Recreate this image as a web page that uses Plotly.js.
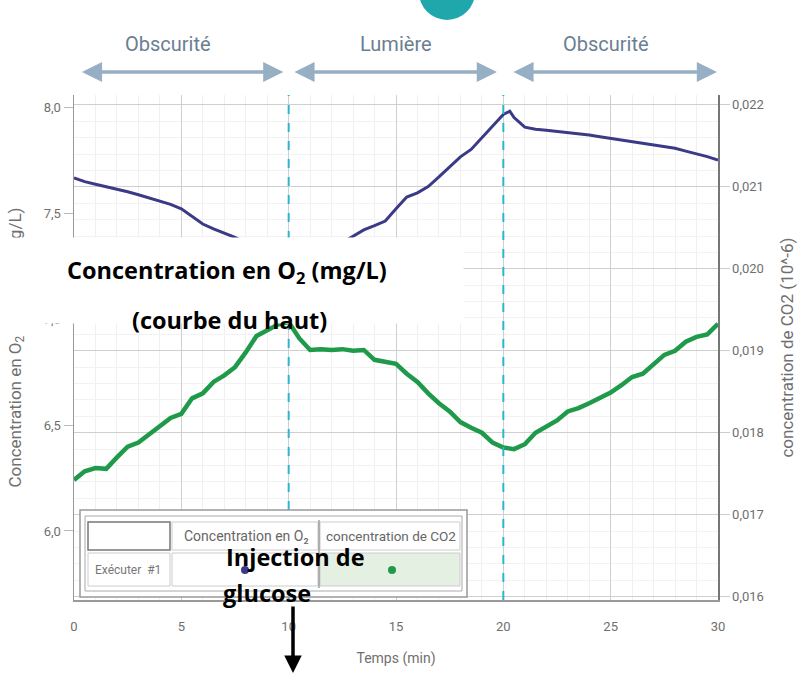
<!DOCTYPE html>
<html>
<head>
<meta charset="utf-8">
<script src="https://cdn.plot.ly/plotly-3.0.1.min.js"></script>
<style>html,body{margin:0;padding:0;background:#fff;}#chart{width:799px;height:684px;}</style>
</head>
<body>
<div id="chart"></div>
<script>
// ---- data ----
const timeO2 = [0,0.5,1,1.5,2,2.5,3,3.5,4,4.5,5,5.5,6,6.5,7,7.5,8,8.5,9,9.5,10,10.5,11,11.5,12,12.5,13,13.5,14,14.5,15,15.5,16,16.5,17,17.5,18,18.5,19,19.5,20,20.3,20.5,21,21.5,22,22.5,23,23.5,24,24.5,25,25.5,26,26.5,27,27.5,28,28.5,29,29.5,30];
const o2Values = [7.665,7.648,7.636,7.625,7.612,7.600,7.586,7.572,7.556,7.541,7.520,7.485,7.448,7.425,7.405,7.385,7.360,7.330,7.300,7.270,7.245,7.260,7.280,7.300,7.330,7.360,7.390,7.420,7.440,7.462,7.520,7.575,7.595,7.625,7.670,7.720,7.765,7.800,7.855,7.905,7.965,7.980,7.950,7.905,7.895,7.890,7.885,7.880,7.874,7.868,7.860,7.852,7.845,7.835,7.830,7.820,7.812,7.805,7.792,7.780,7.766,7.750];
const timeCO2 = [0,0.5,1,1.5,2,2.5,3,3.5,4,4.5,5,5.5,6,6.5,7,7.5,8,8.5,9,9.5,10,10.5,11,11.5,12,12.5,13,13.5,14,14.5,15,15.5,16,16.5,17,17.5,18,18.5,19,19.5,20,20.5,21,21.5,22,22.5,23,23.5,24,24.5,25,25.5,26,26.5,27,27.5,28,28.5,29,29.5,30];
const co2Values = [0.017425,0.01753,0.01757,0.01756,0.01770,0.01783,0.01788,0.01798,0.01807,0.01818,0.01823,0.01842,0.01848,0.01862,0.01870,0.01880,0.01898,0.01918,0.01925,0.01932,0.01935,0.01915,0.01901,0.01902,0.01901,0.01902,0.01900,0.01901,0.01889,0.01886,0.01884,0.01872,0.01862,0.01848,0.01836,0.01826,0.01813,0.01806,0.01800,0.01788,0.01782,0.01780,0.01786,0.01800,0.01807,0.01815,0.01826,0.01830,0.01836,0.01843,0.01849,0.01858,0.01868,0.01872,0.01883,0.01895,0.01900,0.01911,0.01917,0.01920,0.01933];
const dividerTimes = [10, 20];
const phaseLabels = ['Obscurité', 'Lumière', 'Obscurité'];
const phaseLabelTimes = [4.4, 15.0, 24.8];
const phaseStart = [0.3, 10.2, 20.4];
const phaseEnd = [9.75, 19.7, 29.95];
const o2TickVals = [6, 6.5, 7, 7.5, 8];
const xTickVals = [0, 5, 10, 15, 20, 25, 30];

// ---- geometry helpers (plot area in page pixels) ----
const L = 74, R = 718, T = 95, B = 600;
const px = x => (x - L) / (R - L);
const py = y => (B - y) / (B - T);

const navy = '#3b3a86';
const green = '#1f9a4a';
const gray = '#6f6f6f';
const chartFont = 'Roboto, Liberation Sans Narrow, sans-serif';
const bold = 'Open Sans, Noto Sans, sans-serif';
const NB = '\u00A0';

const traces = [
  {x: timeO2, y: o2Values, type: 'scatter', mode: 'lines', yaxis: 'y',
   line: {color: navy, width: 3}, name: 'Concentration en O₂'},
  {x: timeCO2, y: co2Values, type: 'scatter', mode: 'lines', yaxis: 'y2',
   line: {color: green, width: 4.5}, name: 'concentration de CO2'}
];

const shapes = [];
dividerTimes.forEach(t => shapes.push({type: 'line', xref: 'x', yref: 'paper', x0: t, x1: t, y0: 0, y1: 1,
  line: {color: '#2fb3d3', width: 2, dash: 'dash'}, layer: 'above'}));
function rect(x0, y0, x1, y1, fill, lc, lw) {
  shapes.push({type: 'rect', xref: 'paper', yref: 'paper', x0: px(x0), x1: px(x1), y0: py(y1), y1: py(y0),
    fillcolor: fill, line: {color: lc, width: lw}, layer: 'above'});
}
// teal blob at top
shapes.push({type: 'circle', xref: 'paper', yref: 'paper', x0: px(419), x1: px(475), y0: py(20), y1: py(-36),
  fillcolor: '#1fa7ac', line: {width: 0}, layer: 'above'});
// legend table
rect(80, 510, 467, 597, '#ffffff', '#999', 1.5);
rect(85, 516, 462, 591, '#ffffff', '#aaa', 1);
rect(320, 553, 460, 586, '#e4f0e2', '#ccc', 1);
rect(88, 522, 170, 550, '#ffffff', '#777', 1.5);
rect(172, 522, 318, 550, 'rgba(0,0,0,0)', '#ccc', 1);
rect(320, 522, 460, 550, 'rgba(0,0,0,0)', '#ccc', 1);
rect(88, 553, 170, 586, 'rgba(0,0,0,0)', '#ccc', 1);
rect(172, 553, 318, 586, 'rgba(0,0,0,0)', '#ccc', 1);
shapes.push({type: 'line', xref: 'paper', yref: 'paper', x0: px(319), x1: px(319), y0: py(588), y1: py(520),
  line: {color: '#888', width: 1.2}, layer: 'above'});
shapes.push({type: 'circle', xref: 'paper', yref: 'paper', x0: px(241), x1: px(249), y0: py(574), y1: py(566),
  fillcolor: navy, line: {width: 0}, layer: 'above'});
shapes.push({type: 'circle', xref: 'paper', yref: 'paper', x0: px(388), x1: px(396), y0: py(574), y1: py(566),
  fillcolor: green, line: {width: 0}, layer: 'above'});

const annotations = [];
function note(x, y, text, font, xanchor) {
  annotations.push({xref: 'paper', yref: 'paper', x: px(x), y: py(y), text: text, showarrow: false,
    xanchor: xanchor || 'center', yanchor: 'middle', font: font});
}
// white overlay box (annotation so that it also covers the axis title)
annotations.push({xref: 'paper', yref: 'paper', x: px(0), y: py(237), xanchor: 'left', yanchor: 'top',
  text: ' ', showarrow: false, width: 460, height: 83, bgcolor: '#ffffff', borderpad: 1, font: {size: 10}});
// phase labels and arrows
phaseLabels.forEach((lab, i) => {
  annotations.push({xref: 'x', yref: 'paper', x: phaseLabelTimes[i], y: py(44), xanchor: 'center', yanchor: 'middle',
    text: lab, showarrow: false, font: {family: chartFont, size: 20, color: '#6a7e92'}});
  annotations.push({xref: 'x', yref: 'paper', x: phaseEnd[i], y: py(72), axref: 'x', ax: phaseStart[i], ayref: 'pixel', ay: 0,
    text: '', showarrow: true, arrowside: 'end+start', arrowhead: 2, arrowsize: 1.15, arrowwidth: 3.5, arrowcolor: '#97afc4'});
});
// overlay text
const boldFont = {family: bold, size: 23.5, color: '#000', weight: 'bold'};
note(227, 271, '<b>Concentration en O<sub>2</sub> (mg/L)</b>', boldFont);
note(229, 320, '<b>(courbe du haut)</b>', boldFont);
// legend table text
note(246, 536, 'Concentration en O₂', {family: chartFont, size: 14, color: '#666'});
note(391, 536, 'concentration de CO2', {family: chartFont, size: 13.5, color: '#666'});
note(128, 570, 'Exécuter  #1', {family: chartFont, size: 12, color: '#777'});
// injection text + arrow
note(224, 557, '<b>Injection de</b>', boldFont, 'left');
note(221, 593, '<b>glucose</b>', boldFont, 'left');
annotations.push({xref: 'paper', yref: 'paper', x: px(293), y: py(673), ax: 0, ay: -68, text: '',
  showarrow: true, arrowhead: 2, arrowsize: 1, arrowwidth: 3.5, arrowcolor: '#000'});

const layout = {
  width: 799, height: 684,
  margin: {l: L, r: 799 - R, t: T, b: 684 - B},
  paper_bgcolor: '#ffffff', plot_bgcolor: '#ffffff',
  separators: ',.',
  showlegend: false,
  font: {family: chartFont, color: gray, size: 12},
  xaxis: {range: [0, 30], tickvals: xTickVals, showgrid: true, gridcolor: '#cfcfcf', gridwidth: 1,
    minor: {dtick: 1, showgrid: true, gridcolor: '#f0f0f0'},
    zeroline: false, showline: true, linecolor: '#999', linewidth: 1.5, ticks: '',
    ticklabelstandoff: 14,
    tickfont: {family: chartFont, size: 13, color: gray},
    title: {text: 'Temps (min)', font: {family: chartFont, size: 14, color: gray}, standoff: 20}},
  yaxis: {range: [5.6745, 8.0566], tickvals: o2TickVals, tickformat: '.1f', showgrid: false, zeroline: false,
    showline: true, linecolor: '#999', linewidth: 1.5, ticks: 'outside', ticklen: 9, tickcolor: '#bbb',
    tickfont: {family: chartFont, size: 13, color: gray},
    title: {text: 'Concentration en O<sub>2</sub>' + NB.repeat(18) + '(mg/L)',
      font: {family: chartFont, size: 17, color: gray}, standoff: 18}},
  yaxis2: {overlaying: 'y', side: 'right', range: [0.015960, 0.02212], tick0: 0.016, dtick: 0.001, tickformat: '.3f',
    showgrid: true, gridcolor: '#cfcfcf', gridwidth: 1,
    minor: {dtick: 0.0002, showgrid: true, gridcolor: '#f2f2f2'},
    zeroline: false, showline: true, linecolor: '#777', linewidth: 1.5, ticks: 'outside', ticklen: 10, tickcolor: '#ccc',
    tickfont: {family: chartFont, size: 13, color: gray},
    title: {text: 'concentration de CO2 (10^-6)', font: {family: chartFont, size: 17, color: gray}, standoff: 18}},
  shapes: shapes,
  annotations: annotations
};

Plotly.newPlot('chart', traces, layout, {displayModeBar: false, staticPlot: true});
</script>
</body>
</html>
